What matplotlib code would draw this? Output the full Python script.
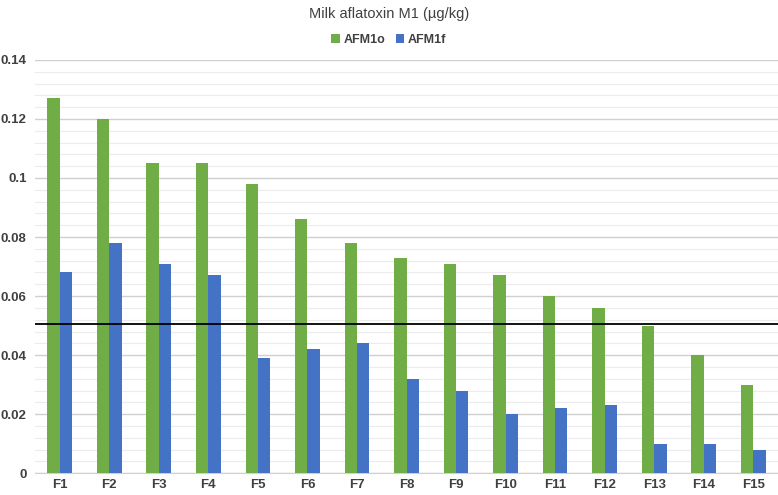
import matplotlib.pyplot as plt
import matplotlib
import numpy as np
from matplotlib.ticker import MultipleLocator, FuncFormatter

matplotlib.rcParams.update({'font.family': 'Liberation Sans'})

farms = ['F1', 'F2', 'F3', 'F4', 'F5', 'F6', 'F7', 'F8', 'F9', 'F10',
         'F11', 'F12', 'F13', 'F14', 'F15']
afm1o = [0.127, 0.120, 0.105, 0.105, 0.098, 0.086, 0.078, 0.073, 0.071,
         0.067, 0.060, 0.056, 0.050, 0.040, 0.030]
afm1f = [0.068, 0.078, 0.071, 0.067, 0.039, 0.042, 0.044, 0.032, 0.028,
         0.020, 0.022, 0.023, 0.010, 0.010, 0.008]
limit = 0.0505

x = np.arange(len(farms))
w = 0.25

fig = plt.figure(figsize=(7.78, 4.95), dpi=100)
ax = fig.add_axes([0.045, 0.044, 0.955, 0.835])

ax.bar(x - w/2, afm1o, w, color='#70AD47', label='AFM1o', zorder=3)
ax.bar(x + w/2, afm1f, w, color='#4472C4', label='AFM1f', zorder=3)
ax.axhline(limit, color='black', lw=1.3, zorder=4)

ax.set_xlim(-0.5, 14.5)
ax.set_ylim(0, 0.14)
ax.yaxis.set_major_locator(MultipleLocator(0.02))
ax.yaxis.set_minor_locator(MultipleLocator(0.004))
ax.yaxis.set_major_formatter(FuncFormatter(lambda v, p: '0' if v == 0 else ('%.2f' % v).rstrip('0')))
ax.grid(axis='y', which='major', color='#d0d0d0', lw=1, zorder=0)
ax.grid(axis='y', which='minor', color='#ececec', lw=0.8, zorder=0)
ax.set_xticks(x)
ax.set_xticklabels(farms)
ax.tick_params(which='both', length=0)
ax.tick_params(axis='x', pad=4)
ax.tick_params(axis='y', pad=6)
for lab in ax.get_xticklabels() + ax.get_yticklabels():
    lab.set_fontweight('bold')
    lab.set_color('#404040')
    lab.set_fontsize(9.5)
for s in ['top', 'right', 'left']:
    ax.spines[s].set_visible(False)
ax.spines['bottom'].set_color('#d0d0d0')

fig.text(0.5, 0.985, 'Milk aflatoxin M1 (\u00b5g/kg)', ha='center', va='top',
         fontsize=10.5, color='#404040')
fig.legend(loc='upper center', bbox_to_anchor=(0.5, 0.955), ncol=2, frameon=False,
           prop={'weight': 'bold', 'size': 9}, handlelength=0.7, handleheight=0.7,
           handletextpad=0.3, columnspacing=0.8, labelcolor='#404040')

fig.savefig('out.png')
